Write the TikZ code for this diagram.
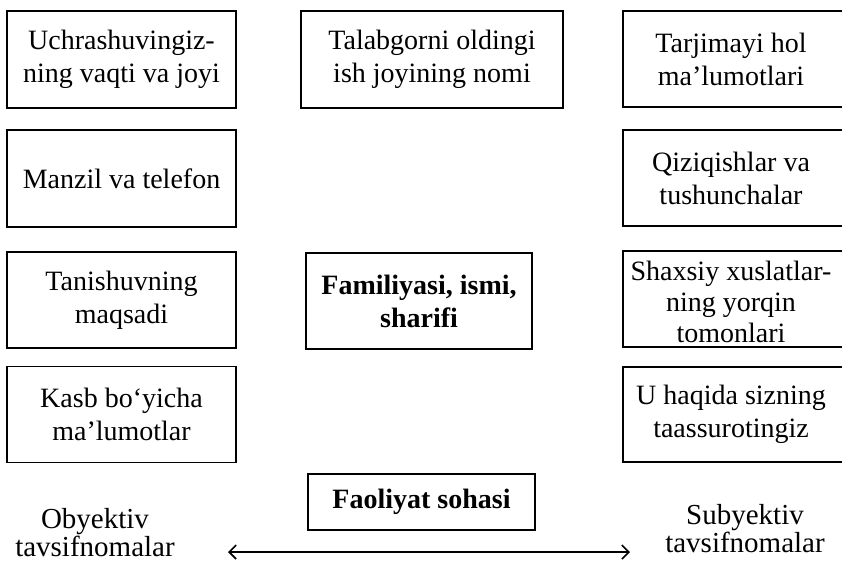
\documentclass[tikz,border=0pt]{standalone}
\usepackage{fontspec}
\setmainfont{Liberation Serif}
\usetikzlibrary{arrows.meta}
\begin{document}
\begin{tikzpicture}[x=1pt,y=-1pt,
  boxtext/.style={font=\fontsize{28}{33}\selectfont, align=center},
  infobox/.style={boxtext, draw, line width=1.6pt, inner sep=0pt},
  boldbox/.style={infobox, font=\fontsize{28}{33}\selectfont\bfseries},
  sidelabel/.style={align=center, font=\fontsize{29}{28}\selectfont}]
\useasboundingbox (0,0) rectangle (842,563);

% left column
\node[infobox, minimum width=229pt, minimum height=97pt] (l1) at (121.5,59.5)
  {Uchrashuvingiz-\\ning vaqti va joyi};
\node[infobox, minimum width=229pt, minimum height=97pt] (l2) at (121.5,178.5)
  {Manzil va telefon};
\node[infobox, minimum width=229pt, minimum height=96pt] (l3) at (121.5,300)
  {Tanishuvning\\maqsadi};
\node[infobox, minimum width=229pt, minimum height=96pt] (l4) at (121.5,414.5)
  {Kasb bo‘yicha\\ma’lumotlar};

% middle column
\node[infobox, minimum width=262pt, minimum height=97pt] (m1) at (432,59.5)
  {Talabgorni oldingi\\ish joyining nomi};
\node[boldbox, minimum width=226pt, minimum height=96pt] (m2) at (419,301)
  {Familiyasi, ismi,\\sharifi};
\node[boldbox, minimum width=227pt, minimum height=56pt] (m3) at (421.5,502)
  {Faoliyat sohasi};

% right column (boxes run past the right edge)
\node[infobox, minimum width=230pt, minimum height=96pt] (r1) at (738,59) {};
\node[boxtext] (r1t) at (731,59) {Tarjimayi hol\\ma’lumotlari};
\node[infobox, minimum width=230pt, minimum height=96pt] (r2) at (738,178) {};
\node[boxtext] (r2t) at (731,178) {Qiziqishlar va\\tushunchalar};
\node[infobox, minimum width=230pt, minimum height=96pt] (r3) at (738,299) {};
\node[boxtext, font=\fontsize{28}{31}\selectfont] (r3t) at (731,302)
  {Shaxsiy xuslatlar-\\ning yorqin\\tomonlari};
\node[infobox, minimum width=230pt, minimum height=95pt] (r4) at (738,414.5) {};
\node[boxtext] (r4t) at (731,414.5) {U haqida sizning\\taassurotingiz};

% scale of characteristics
\node[sidelabel] (obj) at (95,533) {Obyektiv\\tavsifnomalar};
\node[sidelabel] (sub) at (745,529) {Subyektiv\\tavsifnomalar};
\coordinate (aL) at (228,552);
\coordinate (aR) at (630,552);
\draw[line width=1.3pt, {Straight Barb[length=7pt,width=14pt,line width=1.6pt]}-{Straight Barb[length=7pt,width=14pt,line width=1.6pt]}] (aL) -- (aR);
\end{tikzpicture}
\end{document}
